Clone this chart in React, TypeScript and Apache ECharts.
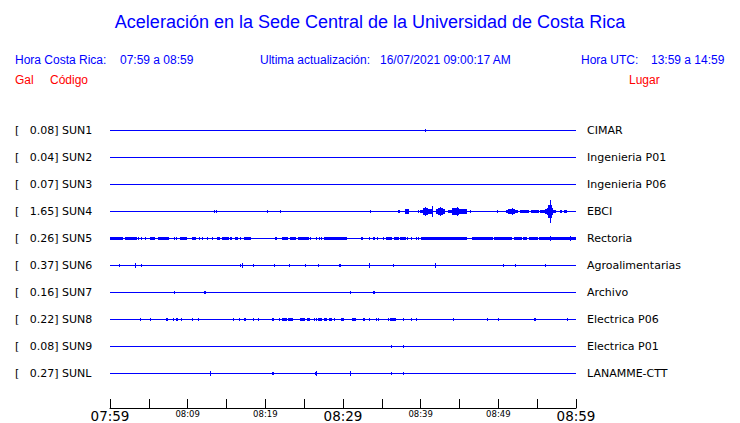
import React, { useEffect, useRef } from "react";
import * as echarts from "echarts";

const codes = ["SUN1", "SUN2", "SUN3", "SUN4", "SUN5", "SUN6", "SUN7", "SUN8", "SUN9", "SUNL"];
const peaks = [0.08, 0.04, 0.07, 1.65, 0.26, 0.37, 0.16, 0.22, 0.08, 0.27];
const places = [
  "CIMAR", "Ingenieria P01", "Ingenieria P06", "EBCI", "Rectoria",
  "Agroalimentarias", "Archivo", "Electrica P06", "Electrica P01", "LANAMME-CTT",
];
const tickLabels = ["07:59", "08:09", "08:19", "08:29", "08:39", "08:49", "08:59"];

// events per station: [start minute, end minute, amplitude (Gal)]
const sun1 = [[40.5, 40.5, 0.15]];
const sun2: number[][] = [];
const sun3: number[][] = [];
const sun4 = [
  [5.3, 5.3, 0.1], [13.45, 13.45, 0.2], [13.6, 13.6, 0.2], [20.2, 20.2, 0.2], [21.85, 21.85, 0.2],
  [33.5, 33.5, 0.15], [36.7, 36.7, 0.1], [37.05, 37.3, 0.15], [38.0, 38.5, 0.3], [39.6, 39.6, 0.15],
  [39.9, 40.3, 0.2], [40.3, 40.95, 0.45], [40.6, 40.6, 0.6], [40.95, 41.5, 0.35], [41.46, 41.46, 0.75],
  [42.0, 42.2, 0.3], [42.2, 42.9, 0.5], [42.5, 42.5, 0.6], [42.9, 43.1, 0.3],
  [43.57, 44.08, 0.25], [44.08, 44.94, 0.45], [44.65, 44.65, 0.7], [44.94, 45.93, 0.3],
  [46.36, 46.36, 0.15], [49.77, 49.77, 0.25],
  [50.93, 51.3, 0.2], [51.3, 52.1, 0.35], [51.7, 51.7, 0.45], [52.1, 52.48, 0.2],
  [52.8, 54.0, 0.2], [54.2, 55.2, 0.2], [55.4, 56.0, 0.25],
  [56.05, 56.35, 0.4], [56.3, 57.1, 0.45], [56.45, 56.9, 0.9], [56.68, 56.68, 1.65], [57.1, 57.4, 0.2],
  [57.9, 58.2, 0.2], [58.5, 58.8, 0.2],
];
const sun5 = [
  [0, 1.7, 0.25], [1.94, 3.44, 0.25], [3.65, 3.65, 0.2], [4.0, 4.0, 0.2], [4.5, 4.5, 0.2],
  [5.16, 5.8, 0.25], [6.15, 7.6, 0.25], [8.2, 8.2, 0.2], [8.5, 8.5, 0.2], [9.0, 9.9, 0.25],
  [10.6, 11.05, 0.25], [11.5, 11.5, 0.2], [11.9, 11.9, 0.2], [12.5, 12.5, 0.2], [13.1, 13.1, 0.2],
  [13.8, 14.2, 0.25], [14.4, 15.3, 0.25], [15.5, 15.7, 0.25], [16.1, 16.5, 0.25], [16.8, 16.8, 0.2],
  [17.2, 18.1, 0.25], [20.2, 20.2, 0.1], [21.3, 21.5, 0.25], [22.1, 22.9, 0.25], [23.2, 23.9, 0.25],
  [24.2, 25.6, 0.25], [25.8, 25.8, 0.2], [26.5, 26.5, 0.2], [26.9, 26.9, 0.2], [27.2, 27.2, 0.2],
  [27.6, 30.5, 0.25], [32.3, 32.3, 0.2], [32.5, 32.5, 0.2], [33.3, 33.3, 0.2], [33.8, 33.8, 0.2],
  [34.0, 34.0, 0.2], [34.4, 34.4, 0.2], [35.1, 35.1, 0.2], [35.5, 36.3, 0.25], [36.6, 37.2, 0.25],
  [37.4, 38.1, 0.25], [38.3, 38.3, 0.2], [38.7, 38.7, 0.2], [39.4, 39.4, 0.2], [39.7, 39.7, 0.2],
  [40.0, 43.35, 0.25], [43.45, 46.0, 0.25], [46.6, 49.25, 0.25], [49.5, 51.8, 0.25], [52.0, 53.1, 0.25],
  [53.2, 53.75, 0.25], [54.0, 55.05, 0.25], [55.3, 60, 0.25], [56.65, 56.65, 0.35], [59.2, 59.2, 0.35],
];
const sun6 = [
  [1.2, 1.2, 0.2], [3.27, 3.27, 0.35], [4.04, 4.04, 0.2], [5.2, 5.2, 0.1], [16.7, 16.7, 0.2],
  [16.95, 16.95, 0.3], [18.4, 18.4, 0.2], [21.1, 21.1, 0.2], [23.0, 23.0, 0.2], [25.1, 25.1, 0.2],
  [26.75, 26.75, 0.2], [29.5, 29.7, 0.15], [33.3, 33.45, 0.37], [36.4, 36.4, 0.2], [41.85, 41.85, 0.37],
  [50.6, 50.6, 0.2], [52.2, 52.2, 0.2], [56.0, 56.0, 0.2],
];
const sun7 = [
  [8.2, 8.2, 0.2], [12.1, 12.3, 0.16], [17.5, 17.5, 0.07], [27.65, 27.65, 0.07], [30.9, 30.9, 0.15],
  [33.9, 34.1, 0.16],
];
const sun8 = [
  [2.75, 2.75, 0.07], [3.9, 3.9, 0.15], [5.2, 5.2, 0.15], [6.1, 6.1, 0.07], [6.3, 6.3, 0.07],
  [6.6, 6.6, 0.07], [7.2, 7.5, 0.15], [8.1, 8.1, 0.15], [8.5, 8.8, 0.2], [9.16, 9.16, 0.15],
  [10.5, 10.5, 0.15], [11.3, 11.3, 0.15], [11.9, 11.9, 0.07], [15.8, 15.8, 0.15], [16.55, 16.55, 0.15],
  [17.3, 17.5, 0.15], [18.4, 18.4, 0.15], [19.1, 19.1, 0.15], [20.8, 21.1, 0.2], [21.7, 21.7, 0.15],
  [22.1, 22.8, 0.2], [22.9, 23.6, 0.15], [24.5, 25.1, 0.15], [25.4, 25.8, 0.15], [26.3, 26.3, 0.15],
  [26.5, 26.5, 0.15], [26.75, 27.3, 0.2], [27.5, 27.9, 0.15], [28.2, 28.6, 0.15], [28.8, 29.0, 0.15],
  [29.7, 30.1, 0.15], [31.2, 31.7, 0.2], [32.6, 32.8, 0.15], [33.3, 33.5, 0.15], [34.2, 34.2, 0.15],
  [34.5, 34.5, 0.15], [35.8, 35.8, 0.15], [36.0, 36.8, 0.2], [37.7, 37.7, 0.22], [38.8, 38.8, 0.15],
  [39.35, 39.35, 0.15], [41.3, 41.3, 0.07], [44.1, 44.3, 0.2], [48.55, 48.55, 0.15], [50.0, 50.0, 0.15],
  [50.5, 50.5, 0.07], [52.9, 52.9, 0.07], [54.6, 54.8, 0.15], [56.7, 56.7, 0.07], [58.8, 59.0, 0.15],
];
const sun9 = [[36.2, 36.2, 0.15], [37.7, 37.7, 0.15]];
const sunl = [
  [9.1, 9.1, 0.07], [12.9, 12.9, 0.35], [20.9, 21.1, 0.15], [26.4, 26.6, 0.2], [26.5, 26.5, 0.35],
  [30.9, 30.9, 0.35], [36.2, 36.2, 0.15], [37.7, 37.7, 0.15], [40.5, 40.5, 0.07],
];
const events = [sun1, sun2, sun3, sun4, sun5, sun6, sun7, sun8, sun9, sunl];

const BLUE = "#0000ff";
const RED = "#ff0000";
const GAL_TO_ROW = 6.7 / 27; // vertical exaggeration: rows per Gal

export default function App() {
  const ref = useRef<HTMLDivElement>(null);
  useEffect(() => {
    document.body.style.margin = "0";
    const chart = echarts.init(ref.current!, undefined, { renderer: "svg" });
    const leftLabels = codes.map((c, i) => `[\u00a0\u00a0\u00a0${peaks[i].toFixed(2)}] ${c}`);
    const eventData: number[][] = [];
    events.forEach((list, row) => list.forEach((e) => eventData.push([row, e[0], e[1], e[2]])));
    const baseSeries = codes.map((c, row) => ({
      type: "line",
      name: c,
      data: [[0, row], [60, row]],
      symbol: "none",
      lineStyle: { color: BLUE, width: 1 },
      silent: true,
    }));
    const font = "Liberation Sans";
    const hdr = (text: string, x: number, y: number, fill: string) => ({
      type: "text", x, y, style: { text, fontSize: 12, fontFamily: font, fill, verticalAlign: "middle" },
    });
    const option: any = {
      animation: false,
      graphic: [
        { type: "text", left: "center", top: 13, style: { text: "Aceleración en la Sede Central de la Universidad de Costa Rica", fontSize: 18, fontFamily: font, fill: BLUE } },
        hdr("Hora Costa Rica:", 15, 60, BLUE),
        hdr("07:59 a 08:59", 120, 60, BLUE),
        hdr("Ultima actualización:", 260, 60, BLUE),
        hdr("16/07/2021 09:00:17 AM", 380, 60, BLUE),
        hdr("Hora UTC:", 581, 60, BLUE),
        hdr("13:59 a 14:59", 651, 60, BLUE),
        hdr("Gal", 15, 80, RED),
        hdr("Código", 50, 80, RED),
        hdr("Lugar", 629, 80, RED),
      ],
      grid: { left: 110, right: 164, top: 117, height: 270 },
      xAxis: {
        type: "value",
        position: "bottom",
        min: 0,
        max: 60,
        interval: 5,
        offset: 21,
        splitLine: { show: false },
        axisLine: { onZero: false, lineStyle: { color: "#000", width: 1 } },
        axisTick: { inside: true, length: 9, lineStyle: { color: "#000", width: 1 } },
        axisLabel: {
          margin: 1,
          showMinLabel: true,
          showMaxLabel: true,
          formatter: (v: number) => {
            if (v % 10 !== 0) return "";
            const lab = tickLabels[v / 10];
            return v % 30 === 0 ? `{big|${lab}}` : `{small|${lab}}`;
          },
          rich: {
            big: { fontSize: 13.5, fontFamily: "DejaVu Sans", color: "#000" },
            small: { fontSize: 8.5, fontFamily: "DejaVu Sans", color: "#000" },
          },
        },
      },
      yAxis: [
        { type: "value", min: -0.5, max: 9.5, inverse: true, show: false },
        {
          type: "category", data: leftLabels, inverse: true, position: "left",
          axisLine: { show: false }, axisTick: { show: false },
          axisLabel: { interval: 0, align: "left", margin: 95, fontFamily: "DejaVu Sans", fontSize: 11, color: "#000" },
        },
        {
          type: "category", data: places, inverse: true, position: "right",
          axisLine: { show: false }, axisTick: { show: false },
          axisLabel: { interval: 0, align: "left", margin: 11, fontFamily: "DejaVu Sans", fontSize: 11, color: "#000" },
        },
      ],
      series: [
        ...baseSeries,
        {
          type: "custom",
          data: eventData,
          encode: { x: [1, 2], y: 0 },
          silent: true,
          renderItem: (params: any, api: any) => {
            const row = api.value(0);
            const amp = api.value(3) * GAL_TO_ROW;
            const pA = api.coord([api.value(1), row - amp]);
            const pB = api.coord([api.value(2), row + amp]);
            const x = Math.round(pA[0]);
            const w = Math.max(1, Math.round(pB[0]) - x);
            const y = Math.round(Math.min(pA[1], pB[1]));
            const h = Math.max(1, Math.round(Math.max(pA[1], pB[1])) - y);
            return { type: "rect", shape: { x, y, width: w, height: h }, style: { fill: BLUE } };
          },
        },
      ],
    };
    chart.setOption(option);
    return () => chart.dispose();
  }, []);
  return <div ref={ref} style={{ position: "absolute", left: 0, top: 0, width: 740, height: 423, background: "#fff" }} />;
}
